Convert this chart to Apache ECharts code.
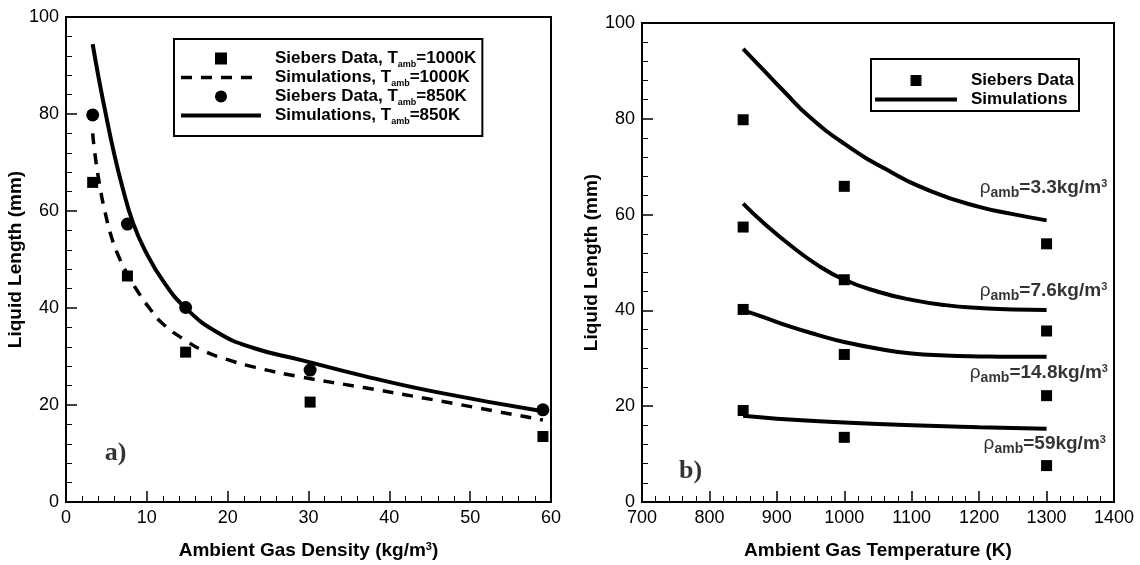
<!DOCTYPE html>
<html><head><meta charset="utf-8">
<script src="https://cdn.jsdelivr.net/npm/echarts@6/dist/echarts.min.js"></script>
<style>html,body{margin:0;padding:0;background:#fff}#c{width:1140px;height:565px}</style>
</head><body><div id="c"></div>
<script>
// ---------- Panel a) : liquid length vs ambient density ----------
const densData = [3.3, 7.6, 14.8, 30.2, 59];
const sieb1000 = [65.9, 46.6, 30.9, 20.6, 13.5];
const sieb850  = [79.8, 57.3, 40.1, 27.2, 19.0];
const sim1000X = [3.3, 3.6, 4.2, 4.8, 5.65, 6.6, 7.5, 8.8, 10.4, 12, 14.9, 17, 19.9, 23.3, 29, 36.8, 45.7, 59];
const sim1000Y = [76, 71.5, 65, 60, 54.5, 50.3, 47.3, 43.6, 39.8, 36.7, 33.2, 31.2, 29.4, 27.8, 25.8, 23.6, 21, 16.9];
const sim850X  = [3.3, 4, 4.8, 5.85, 7, 8.3, 9.8, 12, 14.8, 18.8, 23.3, 29, 36.8, 45.7, 59];
const sim850Y  = [94.4, 87.8, 81, 72.6, 64.8, 57.5, 51.8, 45.6, 40, 34.9, 31.7, 29.3, 26, 22.7, 18.7];
const densTicks = {min: 0, max: 60, step: 10};
const lenTicks = {min: 0, max: 100, step: 20};

// ---------- Panel b) : liquid length vs ambient temperature ----------
const tempData = [850, 1000, 1300];
const siebRho3_3  = [79.8, 65.9, 53.9];
const siebRho7_6  = [57.4, 46.4, 35.7];
const siebRho14_8 = [40.2, 30.8, 22.2];
const siebRho59   = [19.1, 13.5, 7.6];
const simT3_3  = [850, 880, 910, 950, 1000, 1060, 1130, 1200, 1250, 1300];
const simL3_3  = [94.6, 90.2, 85.8, 80.2, 74.8, 69.6, 64.8, 61.6, 60.1, 58.8];
const simT7_6  = [850, 880, 920, 960, 1000, 1050, 1100, 1150, 1200, 1250, 1300];
const simL7_6  = [62.3, 58.3, 53.6, 49.5, 46.4, 43.9, 42.2, 41.1, 40.5, 40.2, 40.1];
const simT14_8 = [850, 880, 920, 960, 1000, 1050, 1100, 1150, 1200, 1250, 1300];
const simL14_8 = [40, 38.6, 36.6, 34.9, 33.4, 32, 31, 30.6, 30.4, 30.3, 30.3];
const simT59   = [850, 900, 1000, 1100, 1200, 1300];
const simL59   = [18, 17.4, 16.6, 16, 15.6, 15.3];
const rhoLabels = ['3.3', '7.6', '14.8', '59'];
const rhoLabelT = [1390, 1390, 1391, 1388];
const rhoLabelL = [65.3, 43.8, 26.6, 11.9];
const tempTicks = {min: 700, max: 1400, step: 100};

const panelTags = ['a)', 'b)'];
const tagPosA = [4.8, 10.1];
const tagPosB = [755, 6.4];

const zip = (xs, ys) => xs.map((x, i) => [x, ys[i]]);
const F = '"Liberation Sans", Arial, Helvetica, sans-serif';
const SQUARE = 'path://M0,0L10,0L10,10L0,10Z';
const CIRCLE = 'path://M5,0A5,5,0,1,1,5,10A5,5,0,1,1,5,0Z';
const DASH = [11, 9];

function axis(gridIndex, t, nameStr, nameGap, extra) {
  return Object.assign({
    type: 'value', gridIndex, min: t.min, max: t.max, interval: t.step,
    nameLocation: 'middle', name: nameStr, nameGap,
    axisLine: {show: true, onZero: false, lineStyle: {color: '#000', width: 2}},
    axisTick: {show: true, inside: true, length: 11, lineStyle: {color: '#000', width: 1.5}},
    minorTick: {show: true, splitNumber: 5, length: 6, lineStyle: {color: '#000', width: 1}},
    splitLine: {show: false},
    axisLabel: {color: '#000', fontFamily: F, fontSize: 18, margin: 7, formatter: v => String(v)},
    nameTextStyle: {color: '#000', fontFamily: F, fontSize: 19, fontWeight: 'bold',
      rich: {
        m: {color: '#000', fontFamily: F, fontSize: 19, fontWeight: 'bold', lineHeight: 22, verticalAlign: 'top'},
        p: {color: '#000', fontFamily: F, fontSize: 11, fontWeight: 'bold', lineHeight: 12, verticalAlign: 'top'}
      }}
  }, extra || {});
}

const legendRich = {
  m: {color: '#000', fontFamily: F, fontSize: 17, fontWeight: 'bold', lineHeight: 17, verticalAlign: 'top'},
  s: {color: '#000', fontFamily: F, fontSize: 9, fontWeight: 'bold', lineHeight: 9, padding: [10, 0, 0, 0], verticalAlign: 'top'}
};
function legendFmt(name) {
  const parts = name.split('_amb');
  if (parts.length === 1) return '{m|' + name + '}';
  return '{m|' + parts[0] + '}{s|amb}{m|' + parts[1] + '}';
}

const black = '#000';
function simLine(name, xi, yi, xs, ys, dashed) {
  return {name, type: 'line', xAxisIndex: xi, yAxisIndex: yi, data: zip(xs, ys),
    symbol: 'none', showSymbol: false, smooth: 0.5,
    color: black, itemStyle: {color: black},
    lineStyle: {color: black, width: dashed ? 3.5 : 4, type: dashed ? DASH : 'solid'}, z: 3};
}
function dots(name, xi, yi, xs, ys, sym, size) {
  return {name, type: 'scatter', xAxisIndex: xi, yAxisIndex: yi, data: zip(xs, ys),
    symbol: sym, symbolSize: size, color: black, itemStyle: {color: black, opacity: 1}, z: 5};
}

const n1 = 'Siebers Data, T_amb=1000K';
const n2 = 'Simulations, T_amb=1000K';
const n3 = 'Siebers Data, T_amb=850K';
const n4 = 'Simulations, T_amb=850K';
const hiddenSym = {color: 'transparent', opacity: 0, borderWidth: 0};
const solidLeg = {color: black, width: 4, type: 'solid', opacity: 1};
const dashLeg = {color: black, width: 3.5, type: DASH, opacity: 1};
const symLeg = {color: black, opacity: 1, borderWidth: 0};

const series = [
  simLine(n2, 0, 0, sim1000X, sim1000Y, true),
  simLine(n4, 0, 0, sim850X, sim850Y, false),
  dots(n1, 0, 0, densData, sieb1000, 'rect', 11),
  dots(n3, 0, 0, densData, sieb850, 'circle', 13),
  dots('Siebers Data', 1, 1, tempData, siebRho3_3, 'rect', 11),
  dots('Siebers Data', 1, 1, tempData, siebRho7_6, 'rect', 11),
  dots('Siebers Data', 1, 1, tempData, siebRho14_8, 'rect', 11),
  dots('Siebers Data', 1, 1, tempData, siebRho59, 'rect', 11),
  simLine('Simulations', 1, 1, simT3_3, simL3_3, false),
  simLine('Simulations', 1, 1, simT7_6, simL7_6, false),
  simLine('Simulations', 1, 1, simT14_8, simL14_8, false),
  simLine('Simulations', 1, 1, simT59, simL59, false),
  {name: 'rhoLabels', type: 'scatter', xAxisIndex: 1, yAxisIndex: 1, silent: true,
    data: zip(rhoLabelT, rhoLabelL), symbol: 'circle', symbolSize: 1,
    itemStyle: {color: 'transparent'}, z: 6,
    label: {show: true, position: 'inside', align: 'right', verticalAlign: 'middle',
      formatter: p => '{r|\u03C1}{s|amb}{m|=' + rhoLabels[p.dataIndex] + 'kg/m}{p|3}',
      rich: {
        r: {color: '#000', fontFamily: F, fontSize: 19, lineHeight: 22, verticalAlign: 'top'},
        s: {color: '#000', fontFamily: F, fontSize: 14, fontWeight: 'bold', lineHeight: 14, padding: [8, 0, 0, 0], verticalAlign: 'top'},
        m: {color: '#000', fontFamily: F, fontSize: 19, fontWeight: 'bold', lineHeight: 22, verticalAlign: 'top'},
        p: {color: '#000', fontFamily: F, fontSize: 11, fontWeight: 'bold', lineHeight: 12, verticalAlign: 'top'}
      }}},
  {name: 'tagA', type: 'scatter', xAxisIndex: 0, yAxisIndex: 0, silent: true,
    data: [tagPosA], symbolSize: 1, itemStyle: {color: 'transparent'},
    label: {show: true, position: 'inside', align: 'left', verticalAlign: 'middle', formatter: panelTags[0],
      color: '#000', fontFamily: '"Liberation Serif", "Times New Roman", serif', fontSize: 26, fontWeight: 'bold'}},
  {name: 'tagB', type: 'scatter', xAxisIndex: 1, yAxisIndex: 1, silent: true,
    data: [tagPosB], symbolSize: 1, itemStyle: {color: 'transparent'},
    label: {show: true, position: 'inside', align: 'left', verticalAlign: 'middle', formatter: panelTags[1],
      color: '#000', fontFamily: '"Liberation Serif", "Times New Roman", serif', fontSize: 26, fontWeight: 'bold'}}
];

const option = {
  animation: false,
  backgroundColor: '#fff',
  grid: [
    {left: 66, top: 17, width: 485, height: 485, show: true, borderColor: '#000', borderWidth: 2, backgroundColor: 'transparent'},
    {left: 642, top: 23, width: 472, height: 481, show: true, borderColor: '#000', borderWidth: 2, backgroundColor: 'transparent'}
  ],
  xAxis: [
    axis(0, densTicks, '{m|Ambient Gas Density (kg/m}{p|3}{m|)}', 39),
    axis(1, tempTicks, 'Ambient Gas Temperature (K)', 39)
  ],
  yAxis: [
    axis(0, lenTicks, 'Liquid Length (mm)', 35),
    axis(1, lenTicks, 'Liquid Length (mm)', 36)
  ],
  legend: [
    {left: 174, top: 39, orient: 'vertical', selectedMode: false,
      data: [
        {name: n1, icon: SQUARE, itemStyle: symLeg},
        {name: n2, itemStyle: hiddenSym, lineStyle: dashLeg},
        {name: n3, icon: CIRCLE, itemStyle: symLeg},
        {name: n4, itemStyle: hiddenSym, lineStyle: solidLeg}
      ],
      itemWidth: 80, itemHeight: 12, itemGap: 0, padding: [11, 6, 10, 5], symbolKeepAspect: true,
      borderColor: '#000', borderWidth: 2, backgroundColor: '#fff',
      formatter: legendFmt,
      textStyle: {color: '#000', fontFamily: F, fontSize: 17, fontWeight: 'bold', padding: [0, 0, 0, 9], rich: legendRich}},
    {left: 871, top: 59, orient: 'vertical', selectedMode: false,
      data: [
        {name: 'Siebers Data', icon: SQUARE, itemStyle: symLeg},
        {name: 'Simulations', itemStyle: hiddenSym, lineStyle: solidLeg}
      ],
      itemWidth: 82, itemHeight: 11, itemGap: 0, padding: [12, 5, 2, 2], symbolKeepAspect: true,
      borderColor: '#000', borderWidth: 2, backgroundColor: '#fff',
      textStyle: {color: '#000', fontFamily: F, fontSize: 17, fontWeight: 'bold', lineHeight: 19, padding: [0, 0, 0, 9]}}
  ],
  series
};
echarts.init(document.getElementById('c'), null, {renderer: 'canvas'}).setOption(option);
</script>
</body></html>
